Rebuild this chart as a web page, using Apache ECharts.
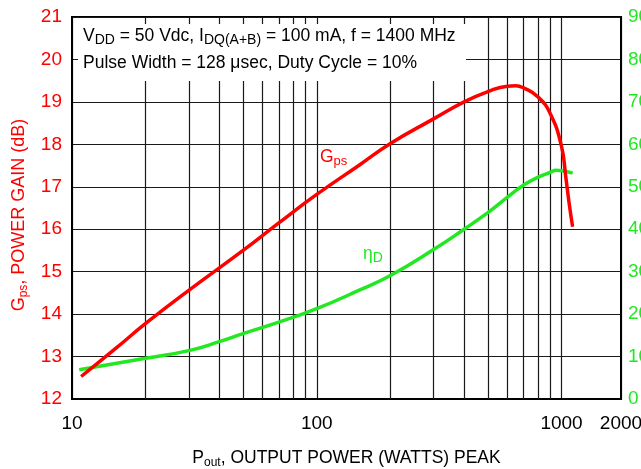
<!DOCTYPE html>
<html>
<head>
<meta charset="utf-8">
<script src="https://cdn.jsdelivr.net/npm/echarts@6/dist/echarts.min.js"></script>
<style>
  html, body { margin: 0; background: #fff; }
  #chart { width: 641px; height: 469px; }
</style>
</head>
<body>
<div id="chart"></div>
<script>
// Pout (W) / Gps (dB)
const gainPower = [10.9, 15, 20, 30, 50, 70, 100, 150, 200, 300, 400, 500, 600, 650, 700, 800, 900, 1000, 1040, 1075, 1110]
const gainValues = [12.53, 13.18, 13.78, 14.56, 15.5, 16.15, 16.82, 17.52, 18.02, 18.6, 19.0, 19.24, 19.37, 19.38, 19.33, 19.12, 18.72, 17.95, 17.25, 16.6, 16.06]
// Pout (W) / drain efficiency (%)
const effPower = [10.7, 20, 30, 40, 50, 70, 100, 150, 200, 300, 400, 500, 600, 700, 800, 900, 950, 1005, 1110]
const effValues = [6.9, 9.6, 11.4, 13.5, 15.4, 18.1, 21.3, 25.7, 29.1, 35.2, 40.0, 43.9, 47.5, 50.4, 52.2, 53.4, 53.9, 53.8, 53.2]
// log grid between decades
const minorGrid = [20, 30, 40, 50, 60, 70, 80, 90, 200, 300, 400, 500, 600, 700, 800, 900]
const xMin = 10
const xMax = 1750
const xEndLabel = '2000'

const RED = '#ff0000'
const GREEN = '#22e822'
const GRID = '#1a1a1a'
const FONT = 'Liberation Sans, Arial, sans-serif'

const chart = echarts.init(document.getElementById('chart'))

const pair = (xs, ys) => xs.map((x, i) => [x, ys[i]])

const subRich = (color, main, sub) => ({
  m: { fontSize: main, lineHeight: 22, color, fill: color, fontFamily: FONT },
  s: { fontSize: sub, lineHeight: sub, verticalAlign: 'bottom', color, fill: color, fontFamily: FONT },
})

chart.setOption({
  animation: false,
  backgroundColor: '#fff',
  textStyle: { fontFamily: FONT },
  grid: {
    left: 72, right: 20, top: 17, bottom: 70,
    containLabel: false,
    outerBoundsMode: 'none',
    show: true, borderColor: '#000', borderWidth: 2,
  },
  xAxis: {
    type: 'log',
    logBase: 10,
    min: xMin,
    max: xMax,
    name: '{m|P}{s|out}{m|, OUTPUT POWER (WATTS) PEAK}',
    nameLocation: 'middle',
    nameGap: 48,
    nameTextStyle: { rich: subRich('#000', 17.5, 12) },
    axisLine: { lineStyle: { color: '#000', width: 2 } },
    axisTick: { show: false },
    axisLabel: {
      color: '#000', fontSize: 19, margin: 15,
      formatter: v => (v > 1500 ? xEndLabel : String(Math.round(v))),
    },
    splitLine: { show: true, lineStyle: { color: GRID, width: 1.2 } },
  },
  yAxis: [
    {
      type: 'value',
      min: 12, max: 21, interval: 1,
      name: '{m|G}{s|ps}{m|, POWER GAIN (dB)}',
      nameLocation: 'middle',
      nameGap: 40,
      nameTextStyle: { rich: subRich(RED, 18, 12), padding: [0, 14, 0, 0] },
      axisLine: { show: true, lineStyle: { color: '#000', width: 2 } },
      axisTick: { show: false },
      axisLabel: { color: RED, fontSize: 19, margin: 10 },
      splitLine: { show: true, lineStyle: { color: GRID, width: 1.2 } },
    },
    {
      type: 'value',
      min: 0, max: 90, interval: 10,
      position: 'right',
      axisLine: { show: true, lineStyle: { color: '#000', width: 2 } },
      axisTick: { show: false },
      axisLabel: { color: GREEN, fontSize: 19, margin: 7 },
      splitLine: { show: false },
    },
  ],
  series: [
    {
      name: 'eta',
      type: 'line',
      yAxisIndex: 1,
      data: pair(effPower, effValues),
      smooth: 0.5,
      showSymbol: false,
      lineStyle: { color: GREEN, width: 3.5 },
      markLine: {
        silent: true,
        symbol: 'none',
        label: { show: false },
        lineStyle: { color: GRID, width: 1.2, type: 'solid' },
        data: minorGrid.map(v => ({ xAxis: v })),
        z: 1,
      },
      z: 3,
    },
    {
      name: 'gain',
      type: 'line',
      yAxisIndex: 0,
      data: pair(gainPower, gainValues),
      smooth: 0.5,
      showSymbol: false,
      lineStyle: { color: RED, width: 3.5 },
      z: 4,
    },
  ],
  graphic: [
    {
      type: 'rect', z: 100,
      shape: { x: 78, y: 24, width: 388, height: 57 },
      style: { fill: '#fff' },
    },
    {
      type: 'text', z: 101, left: 83, top: 27,
      style: {
        text: '{m|V}{s|DD}{m| = 50 Vdc, I}{s|DQ(A+B)}{m| = 100 mA, f = 1400 MHz}',
        rich: subRich('#000', 17.5, 14),
      },
    },
    {
      type: 'text', z: 101, left: 83, top: 54,
      style: {
        text: 'Pulse Width = 128 \u03bcsec, Duty Cycle = 10%',
        fontSize: 17.5, fill: '#000', fontFamily: FONT,
      },
    },
    {
      type: 'text', z: 101, left: 320, top: 148,
      style: { text: '{m|G}{s|ps}', rich: subRich(RED, 17.5, 13) },
    },
    {
      type: 'text', z: 101, left: 363, top: 245,
      style: { text: '{m|\u03b7}{s|D}', rich: subRich(GREEN, 17.5, 14) },
    },
  ],
})
</script>
</body>
</html>
